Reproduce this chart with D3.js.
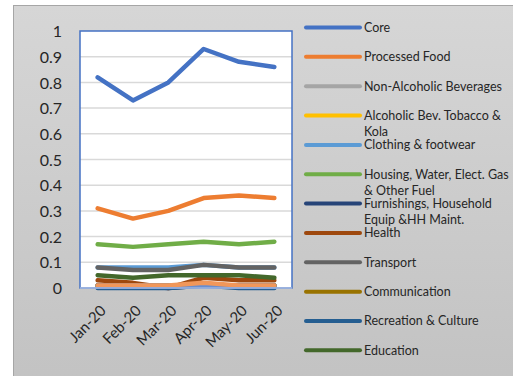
<!DOCTYPE html>
<html>
<head>
<meta charset="utf-8">
<script src="https://cdn.jsdelivr.net/npm/d3@7/dist/d3.min.js"></script>
<style>
  html, body { margin: 0; padding: 0; background: #ffffff; }
  svg { display: block; }
</style>
</head>
<body>
<svg id="chart" width="513" height="376"></svg>
<script>
// Monthly contributions by group, Jan–Jun 2020
const months = ["Jan-20", "Feb-20", "Mar-20", "Apr-20", "May-20", "Jun-20"];
const yTicks = [0, 0.1, 0.2, 0.3, 0.4, 0.5, 0.6, 0.7, 0.8, 0.9, 1];

const seriesNames = [
  "Core",
  "Processed Food",
  "Non-Alcoholic Beverages",
  "Alcoholic Bev. Tobacco & Kola",
  "Clothing & footwear",
  "Housing, Water, Elect. Gas & Other Fuel",
  "Furnishings, Household Equip &HH Maint.",
  "Health",
  "Transport",
  "Communication",
  "Recreation & Culture",
  "Education",
  "Restaurants & Hotels",
  "Miscellaneous Goods & Services"
];

// Legend entries that fit in the panel (first twelve series)
const legendCount = 12;

// Legend text broken into lines
const legendLines = [
  ["Core"],
  ["Processed Food"],
  ["Non-Alcoholic Beverages"],
  ["Alcoholic Bev. Tobacco &", "Kola"],
  ["Clothing & footwear"],
  ["Housing, Water, Elect. Gas", "& Other Fuel"],
  ["Furnishings, Household", "Equip &HH Maint."],
  ["Health"],
  ["Transport"],
  ["Communication"],
  ["Recreation & Culture"],
  ["Education"]
];

const seriesColors = [
  "#4472c4", "#ed7d31", "#a5a5a5", "#ffc000", "#5b9bd5", "#70ad47",
  "#264478", "#9e480e", "#636363", "#997300", "#255e91", "#43682b",
  "#698ed0", "#f1975a"
];

const core          = [0.82, 0.73, 0.80, 0.93, 0.88, 0.86];
const processedFood = [0.31, 0.27, 0.30, 0.35, 0.36, 0.35];
const nonAlcoholic  = [0.01, 0.01, 0.01, 0.01, 0.01, 0.01];
const alcoholic     = [0.01, 0.01, 0.01, 0.01, 0.01, 0.01];
const clothing      = [0.08, 0.08, 0.08, 0.09, 0.08, 0.08];
const housing       = [0.17, 0.16, 0.17, 0.18, 0.17, 0.18];
const furnishings   = [0.01, 0.01, 0.00, 0.01, 0.01, 0.01];
const health        = [0.03, 0.02, 0.00, 0.04, 0.03, 0.03];
const transport     = [0.08, 0.07, 0.07, 0.09, 0.08, 0.08];
const communication = [0.01, 0.01, 0.01, 0.01, 0.01, 0.01];
const recreation    = [0.00, 0.00, 0.00, 0.01, 0.00, 0.00];
const education     = [0.05, 0.04, 0.05, 0.05, 0.05, 0.04];
const restaurants   = [0.01, 0.01, 0.01, 0.01, 0.01, 0.01];
const miscellaneous = [0.01, 0.01, 0.01, 0.02, 0.01, 0.01];

const seriesValues = [
  core, processedFood, nonAlcoholic, alcoholic, clothing, housing,
  furnishings, health, transport, communication, recreation, education,
  restaurants, miscellaneous
];

const series = seriesNames.map((name, i) => ({
  name, color: seriesColors[i], values: seriesValues[i]
}));

const svg = d3.select("#chart");
const W = 513, H = 376;
const font = "Lato, 'Open Sans', sans-serif";

// Panel background with vertical gradient
const defs = svg.append("defs");
const grad = defs.append("linearGradient")
  .attr("id", "panelGrad").attr("x1", 0).attr("y1", 0).attr("x2", 0).attr("y2", 1);
grad.append("stop").attr("offset", "0%").attr("stop-color", "#d6d6d6");
grad.append("stop").attr("offset", "100%").attr("stop-color", "#c2c2c2");

svg.append("rect")
  .attr("x", 13.5).attr("y", 5.5)
  .attr("width", W + 10).attr("height", H + 10)
  .attr("fill", "url(#panelGrad)")
  .attr("stroke", "#a6a6a6").attr("stroke-width", 1);

// Plot area
const plot = { left: 80, right: 292, top: 31, bottom: 288 };

const x = d3.scalePoint()
  .domain(months)
  .range([plot.left, plot.right])
  .padding(0.5);

const y = d3.scaleLinear()
  .domain([0, 1])
  .range([plot.bottom, plot.top]);

svg.append("rect")
  .attr("x", plot.left).attr("y", plot.top)
  .attr("width", plot.right - plot.left).attr("height", plot.bottom - plot.top)
  .attr("fill", "#ffffff");

// Horizontal gridlines
svg.append("g")
  .selectAll("line")
  .data(yTicks.filter(t => t > 0 && t < 1))
  .join("line")
  .attr("x1", plot.left).attr("x2", plot.right)
  .attr("y1", d => y(d)).attr("y2", d => y(d))
  .attr("stroke", "#d9d9d9").attr("stroke-width", 1.5);

// Y axis labels
const yAxis = d3.axisLeft(y).tickValues(yTicks).tickSize(0).tickPadding(0)
  .tickFormat(d => d3.format("")(+d.toFixed(1)));
const yg = svg.append("g")
  .attr("transform", `translate(${plot.left - 18},0)`)
  .call(yAxis);
yg.select(".domain").remove();
yg.selectAll("text")
  .attr("font-family", font).attr("font-size", 16)
  .attr("fill", "#262626").attr("dy", "0.35em");

// X axis labels, rotated
const xAxis = d3.axisBottom(x).tickSize(0).tickPadding(0);
const xg = svg.append("g")
  .attr("transform", `translate(0,${plot.bottom})`)
  .call(xAxis);
xg.select(".domain").remove();
xg.selectAll("text")
  .attr("font-family", font).attr("font-size", 15)
  .attr("fill", "#262626")
  .attr("text-anchor", "end")
  .attr("dy", "0.35em")
  .attr("transform", "translate(5,20) rotate(-45)");

// Series lines
const line = d3.line()
  .x((d, i) => x(months[i]))
  .y(d => y(d));

svg.append("g")
  .selectAll("path")
  .data(series)
  .join("path")
  .attr("d", d => line(d.values))
  .attr("fill", "none")
  .attr("stroke", d => d.color)
  .attr("stroke-width", 4.5)
  .attr("stroke-linejoin", "round")
  .attr("stroke-linecap", "round");

// Plot border
svg.append("rect")
  .attr("x", plot.left).attr("y", plot.top)
  .attr("width", plot.right - plot.left).attr("height", plot.bottom - plot.top)
  .attr("fill", "none")
  .attr("stroke", "#4472c4").attr("stroke-width", 1.5);
svg.append("line")
  .attr("x1", plot.left).attr("x2", plot.right)
  .attr("y1", plot.bottom).attr("y2", plot.bottom)
  .attr("stroke", "#a9bde3").attr("stroke-width", 1.5);

// Legend
const legend = { x0: 306, x1: 360, top: 27.5, step: 29.35, lineH: 16 };
const items = svg.append("g")
  .selectAll("g")
  .data(series.slice(0, legendCount))
  .join("g")
  .attr("transform", (d, i) => `translate(0,${legend.top + i * legend.step})`);

items.append("line")
  .attr("x1", legend.x0).attr("x2", legend.x1)
  .attr("y1", 0).attr("y2", 0)
  .attr("stroke", d => d.color)
  .attr("stroke-width", 4)
  .attr("stroke-linecap", "round");

items.append("text")
  .attr("x", legend.x1 + 4)
  .attr("font-family", font).attr("font-size", 12.5)
  .attr("fill", "#262626")
  .selectAll("tspan")
  .data((d, i) => legendLines[i])
  .join("tspan")
  .attr("x", legend.x1 + 4)
  .attr("y", (d, j) => j * legend.lineH)
  .attr("dy", "0.35em")
  .text(d => d);
</script>
</body>
</html>
